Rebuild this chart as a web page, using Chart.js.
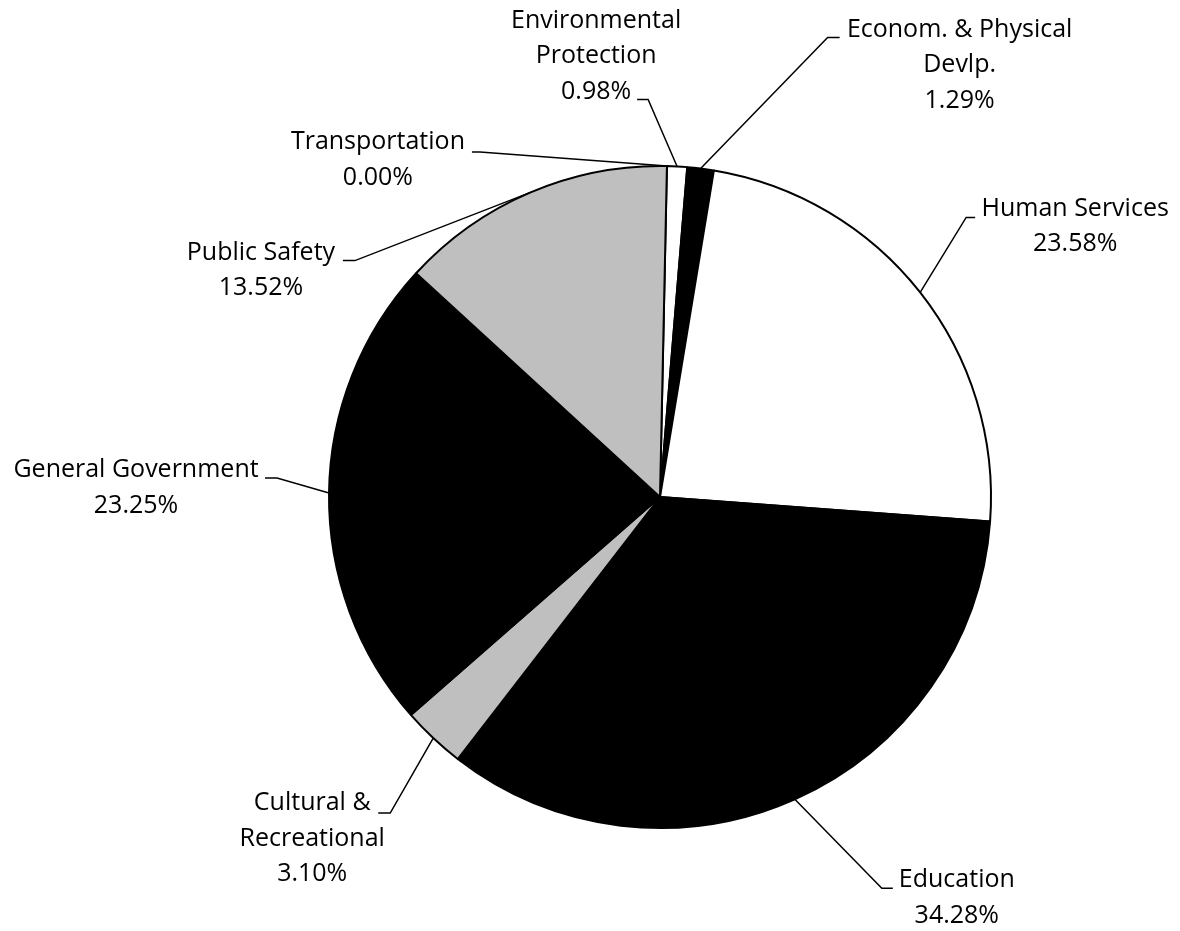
<!DOCTYPE html>
<html>
<head>
<meta charset="utf-8">
<script src="https://cdn.jsdelivr.net/npm/chart.js@4/dist/chart.umd.min.js"></script>
<style>
    html, body { margin: 0; padding: 0; background: #ffffff; }
    #wrap { width: 1180px; height: 931px; }
</style>
</head>
<body>
<div id="wrap"><canvas id="budgetPie" width="1180" height="931"></canvas></div>
<script>
// Budget shares by function (percent), clockwise from 12 o'clock
const categories = [
    'Environmental Protection',
    'Econom. & Physical Devlp.',
    'Human Services',
    'Education',
    'Cultural & Recreational',
    'General Government',
    'Public Safety',
    'Transportation'
];
const shares = [0.98, 1.29, 23.58, 34.28, 3.10, 23.25, 13.52, 0.00];

// How each category name is broken over lines in its label
const labelLines = [
    ['Environmental', 'Protection'],
    ['Econom. & Physical', 'Devlp.'],
    ['Human Services'],
    ['Education'],
    ['Cultural &', 'Recreational'],
    ['General Government'],
    ['Public Safety'],
    ['Transportation']
];

// Slice fills
const sliceColors = ['#ffffff', '#000000', '#ffffff', '#000000', '#bfbfbf', '#000000', '#bfbfbf', '#ffffff'];

// Label placement relative to the slice's edge midpoint:
// e = elbow of the leader line, s = end of the short horizontal stub, t = centre of first text line
const labelPlacement = [
    { ex: -29, ey: -67, sx: -40, tx: -81, ty: -146 },
    { ex: 127, ey: -131, sx: 139, tx: 259, ty: -139 },
    { ex: 46, ey: -75, sx: 55, tx: 155, ty: -84 },
    { ex: 87, ey: 89, sx: 98, tx: 162, ty: 81 },
    { ex: -43, ey: 75, sx: -55, tx: -121, ty: 65 },
    { ex: -52, ey: -15, sx: -64, tx: -193, ty: -23 },
    { ex: -175, ey: 68, sx: -187, tx: -269, ty: 60 },
    { ex: -187, ey: -14, sx: -195, tx: -289, ty: -24 }
];

const LABEL_FONT = '25px "Open Sans"';
const LINE_HEIGHT = 35.5;

/**
 * Draws the outside labels with their leader lines
 */
const leaderLabels = {
    id: 'leaderLabels',
    afterDatasetsDraw(chart) {
        const ctx = chart.ctx;
        const meta = chart.getDatasetMeta(0);
        ctx.save();
        ctx.font = LABEL_FONT;
        ctx.fillStyle = '#000000';
        ctx.strokeStyle = '#000000';
        ctx.lineWidth = 1.5;
        ctx.textAlign = 'center';
        ctx.textBaseline = 'middle';

        meta.data.forEach((arc, i) => {
            const p = arc.getProps(['x', 'y', 'startAngle', 'endAngle', 'outerRadius'], true);
            const mid = (p.startAngle + p.endAngle) / 2;
            const ax = p.x + Math.cos(mid) * p.outerRadius;
            const ay = p.y + Math.sin(mid) * p.outerRadius;
            const place = labelPlacement[i];

            // Leader line: slice edge -> elbow -> stub end
            ctx.beginPath();
            ctx.moveTo(ax, ay);
            ctx.lineTo(ax + place.ex, ay + place.ey);
            ctx.lineTo(ax + place.sx, ay + place.ey);
            ctx.stroke();

            // Label text: name lines followed by the percentage
            const lines = labelLines[i].concat([shares[i].toFixed(2) + '%']);
            lines.forEach((line, k) => {
                ctx.fillText(line, ax + place.tx, ay + place.ty + k * LINE_HEIGHT);
            });
        });
        ctx.restore();
    }
};

const canvas = document.getElementById('budgetPie');
new Chart(canvas, {
    type: 'pie',
    data: {
        labels: categories,
        datasets: [{
            data: shares,
            backgroundColor: sliceColors,
            borderColor: '#000000',
            borderWidth: 2,
            hoverOffset: 0
        }]
    },
    options: {
        responsive: false,
        animation: false,
        rotation: 1.2,
        radius: 331,
        layout: {
            padding: { left: 329, right: 189, top: 166, bottom: 103 }
        },
        plugins: {
            legend: { display: false },
            tooltip: { enabled: false }
        }
    },
    plugins: [leaderLabels]
});
</script>
</body>
</html>
